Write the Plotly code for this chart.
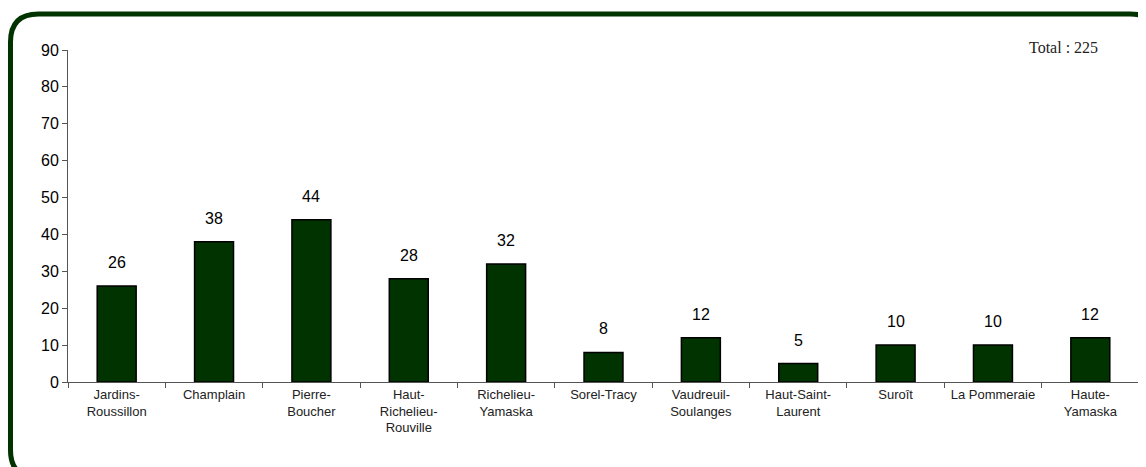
import plotly.graph_objects as go

categories = ["Jardins-<br>Roussillon", "Champlain", "Pierre-<br>Boucher", "Haut-<br>Richelieu-<br>Rouville",
              "Richelieu-<br>Yamaska", "Sorel-Tracy", "Vaudreuil-<br>Soulanges", "Haut-Saint-<br>Laurent",
              "Suroît", "La Pommeraie", "Haute-<br>Yamaska"]
values = [26, 38, 44, 28, 32, 8, 12, 5, 10, 10, 12]
total_label = "Total : 225"

# page offset (default body margin); figure sized to fit the window exactly
OFF = 8
W, H = 1146 - OFF, 467 - OFF
ML, MT = 68 - OFF, 50 - OFF
PW, PH = 1071, 332
MR = W - ML - PW
MB = H - MT - PH

def px(x):
    return (x - OFF - ML) / PW

def py(y):
    return (MT + PH - (y - OFF)) / PH

fig = go.Figure()
fig.add_trace(go.Bar(
    x=categories, y=values, width=0.4,
    marker=dict(color="#003300", line=dict(color="#000000", width=1.5)),
    hoverinfo="skip",
))

for c, v in zip(categories, values):
    fig.add_annotation(x=c, y=v, text=str(v), showarrow=False, yanchor="bottom",
                       yshift=13, font=dict(family="Liberation Sans, Arial", size=16, color="#000"))

fig.add_annotation(xref="paper", yref="paper", x=px(1100), y=py(58), xanchor="right", yanchor="bottom",
                   text=total_label, showarrow=False,
                   font=dict(family="Liberation Serif, serif", size=16, color="#222"))

# rounded border (extends past the right and bottom edges of the view)
x0, y0, x1, y1, r = 10.5, 14, 1158, 478, 28
path = (f"M {px(x0)},{py(y0 + r)} "
        f"Q {px(x0)},{py(y0)} {px(x0 + r)},{py(y0)} "
        f"L {px(x1 - r)},{py(y0)} "
        f"Q {px(x1)},{py(y0)} {px(x1)},{py(y0 + r)} "
        f"L {px(x1)},{py(y1 - r)} "
        f"Q {px(x1)},{py(y1)} {px(x1 - r)},{py(y1)} "
        f"L {px(x0 + r)},{py(y1)} "
        f"Q {px(x0)},{py(y1)} {px(x0)},{py(y1 - r)} Z")
fig.add_shape(type="path", xref="paper", yref="paper", path=path,
              line=dict(color="#003300", width=5), layer="below")

fig.update_layout(
    width=W, height=H,
    margin=dict(l=ML, r=MR, t=MT, b=MB),
    paper_bgcolor="white", plot_bgcolor="white",
    showlegend=False,
    bargap=0.6,
)
fig.update_xaxes(
    type="category", showline=True, linecolor="#555", linewidth=1,
    ticks="outside", tickson="boundaries", ticklen=5, tickcolor="#555",
    tickfont=dict(family="Liberation Sans, Arial", size=13, color="#222"),
    showgrid=False, tickangle=0,
)
fig.update_yaxes(
    range=[0, 90], dtick=10, showline=True, linecolor="#555", linewidth=1,
    ticks="outside", ticklen=5, tickcolor="#555",
    tickfont=dict(family="Liberation Sans, Arial", size=16, color="#000"),
    showgrid=False, zeroline=False,
)

fig.write_html("out.html")
